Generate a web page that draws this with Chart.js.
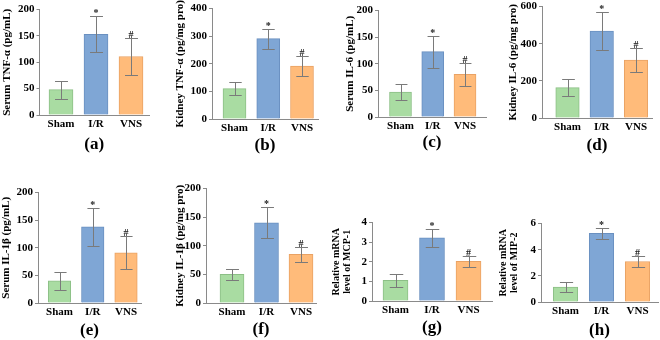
<!DOCTYPE html>
<html>
<head>
<meta charset="utf-8">
<script src="https://cdn.jsdelivr.net/npm/chart.js@4"></script>
<style>
  body { margin: 0; background: #fff; }
  #fig { position: relative; width: 660px; height: 340px; overflow: hidden; }
  #fig canvas { position: absolute; }
</style>
</head>
<body>
<div id="fig"></div>
<script>
// data (mean and SD per group)
const groups = ['Sham', 'I/R', 'VNS']
const marks = ['', '*', '#']

const serumTnf = [48, 153, 111]
const serumTnfSd = [17, 34, 36]
const kidneyTnf = [110, 291, 192]
const kidneyTnfSd = [23, 36, 36]
const serumIl6 = [47, 123, 80]
const serumIl6Sd = [15, 30, 22]
const kidneyIl6 = [164, 468, 312]
const kidneyIl6Sd = [48, 102, 63]
const serumIl1b = [40, 138, 91]
const serumIl1bSd = [17, 35, 30]
const kidneyIl1b = [50, 140, 85]
const kidneyIl1bSd = [9, 27, 13]
const mcp1 = [1.05, 3.22, 2.02]
const mcp1Sd = [0.35, 0.47, 0.29]
const mip2 = [1.15, 5.25, 3.1]
const mip2Sd = [0.37, 0.45, 0.4]

const fill = ['#a9dca2', '#7fa6d5', '#ffbb7a']
const edge = ['#8cbf86', '#6a90c0', '#e9a264']
const axisGray = '#8a8a8a'
const serif = "'Liberation Serif', 'Times New Roman', serif"

// where each small panel sits on the page (pixels)
const panels = [
  { label: '(a)', title: 'Serum TNF-α (pg/mL)', vals: serumTnf, sd: serumTnfSd, max: 200, step: 50,
    box: { ax: 39.5, rx: 149, ty: 8, zy: 115, x0: 61, dx: 35, bw: 24, tx: 7, ly: 145 } },
  { label: '(b)', title: 'Kidney TNF-α (pg/mg pro)', vals: kidneyTnf, sd: kidneyTnfSd, max: 400, step: 100,
    box: { ax: 212, rx: 318, ty: 7, zy: 119, x0: 234.5, dx: 33.75, bw: 23, tx: 180, ly: 146 } },
  { label: '(c)', title: 'Serum IL-6 (pg/mL)', vals: serumIl6, sd: serumIl6Sd, max: 200, step: 50,
    box: { ax: 378, rx: 486, ty: 9, zy: 117, x0: 400.5, dx: 32.25, bw: 22, tx: 350, ly: 143 } },
  { label: '(d)', title: 'Kidney IL-6 (pg/mg pro)', vals: kidneyIl6, sd: kidneyIl6Sd, max: 600, step: 200,
    box: { ax: 542, rx: 652, ty: 5, zy: 118, x0: 567.5, dx: 34.25, bw: 23.5, tx: 513, ly: 146 } },
  { label: '(e)', title: 'Serum IL-1β (pg/mL)', vals: serumIl1b, sd: serumIl1bSd, max: 200, step: 50,
    box: { ax: 38, rx: 141, ty: 191, zy: 303, x0: 59.5, dx: 33.25, bw: 22.5, tx: 6, ly: 331 } },
  { label: '(f)', title: 'Kidney IL-1β (pg/mg pro)', vals: kidneyIl1b, sd: kidneyIl1bSd, max: 200, step: 50,
    box: { ax: 206, rx: 316, ty: 187, zy: 303, x0: 232, dx: 34.5, bw: 24, tx: 180, ly: 330 } },
  { label: '(g)', title: ['Relative mRNA', 'level of MCP-1'], vals: mcp1, sd: mcp1Sd, max: 4, step: 1,
    box: { ax: 372, rx: 492, ty: 221, zy: 301, x0: 395.5, dx: 36.5, bw: 25, tx: 336, ly: 328 } },
  { label: '(h)', title: ['Relative mRNA', 'level of MIP-2'], vals: mip2, sd: mip2Sd, max: 6, step: 2,
    box: { ax: 541, rx: 658, ty: 222, zy: 302, x0: 565.5, dx: 36, bw: 24.5, tx: 503, ly: 331 } }
]

function errorBars (sd) {
  return {
    id: 'errorBars',
    afterDatasetsDraw (chart) {
      const ctx = chart.ctx
      const y = chart.scales.y
      const data = chart.data.datasets[0].data
      ctx.save()
      ctx.strokeStyle = '#7a7a7a'
      ctx.lineWidth = 1
      chart.getDatasetMeta(0).data.forEach((bar, i) => {
        const v = data[i].y
        const hi = Math.round(y.getPixelForValue(v + sd[i])) + 0.5
        const lo = Math.round(y.getPixelForValue(v - sd[i])) + 0.5
        const x = Math.round(bar.x) + 0.5
        const cap = bar.width * 0.27
        ctx.beginPath()
        ctx.moveTo(x, hi)
        ctx.lineTo(x, lo)
        ctx.moveTo(x - cap, hi)
        ctx.lineTo(x + cap, hi)
        ctx.moveTo(x - cap, lo)
        ctx.lineTo(x + cap, lo)
        ctx.stroke()
        if (marks[i]) {
          ctx.fillStyle = '#222'
          ctx.font = 'bold 10px ' + serif
          ctx.textAlign = 'center'
          ctx.textBaseline = 'alphabetic'
          ctx.fillText(marks[i], bar.x, hi - 1)
        }
      })
      ctx.restore()
    }
  }
}

function buildPanel (p) {
  const b = p.box
  const twoLine = Array.isArray(p.title)
  const titleSize = twoLine ? 10 : 11
  const titleLh = twoLine ? 11.5 : 13.2
  const labelSize = 17
  const labelHalf = labelSize * 1.2 / 2
  const left = Math.floor(b.tx - titleLh / 2)
  const top = Math.floor(b.ty - 7)
  const width = Math.ceil(b.rx + 3 - left)
  const bottom = Math.ceil(b.ly + 13)
  const height = bottom - top

  const canvas = document.createElement('canvas')
  canvas.width = width
  canvas.height = height
  canvas.style.left = left + 'px'
  canvas.style.top = top + 'px'
  document.getElementById('fig').appendChild(canvas)

  const yW = b.ax - left
  const xH = bottom - b.zy
  const xMin = 1 - (b.x0 - b.ax) / b.dx
  const xMax = xMin + (b.rx - b.ax) / b.dx
  const tickFont = { family: serif, size: 11, weight: 'bold' }

  new Chart(canvas, {
    type: 'bar',
    data: {
      datasets: [
        {
          data: p.vals.map((v, i) => ({ x: i + 1, y: v })),
          backgroundColor: fill,
          borderColor: edge,
          borderWidth: 1,
          barThickness: b.bw
        }
      ]
    },
    options: {
      responsive: false,
      animation: false,
      layout: {
        padding: { left: 0, top: b.ty - top, right: width - (b.rx - left), bottom: 0 }
      },
      plugins: {
        legend: { display: false },
        tooltip: { enabled: false }
      },
      scales: {
        x: {
          type: 'linear',
          offset: false,
          min: xMin,
          max: xMax,
          afterFit: s => { s.height = xH },
          grid: { drawOnChartArea: false, drawTicks: false },
          border: { color: axisGray },
          ticks: {
            stepSize: 1,
            includeBounds: false,
            autoSkip: false,
            maxRotation: 0,
            padding: 3,
            color: '#000',
            font: tickFont,
            callback: v => groups[v - 1] ?? ''
          },
          title: {
            display: true,
            text: p.label,
            color: '#000',
            font: { family: serif, size: labelSize, weight: 'bold', lineHeight: 1.2 },
            padding: { top: 0, bottom: bottom - b.ly - labelHalf }
          }
        },
        y: {
          min: 0,
          max: p.max,
          afterFit: s => { s.width = yW },
          grid: { drawOnChartArea: false, tickLength: 3, color: axisGray },
          border: { color: axisGray },
          ticks: { stepSize: p.step, padding: 2, color: '#000', font: tickFont },
          title: {
            display: true,
            text: p.title,
            color: '#000',
            font: { family: serif, size: titleSize, weight: 'bold', lineHeight: titleLh / titleSize },
            padding: { top: b.tx - left - titleLh / 2, bottom: 0 }
          }
        }
      }
    },
    plugins: [errorBars(p.sd)]
  })
}

panels.forEach(buildPanel)
</script>
</body>
</html>
